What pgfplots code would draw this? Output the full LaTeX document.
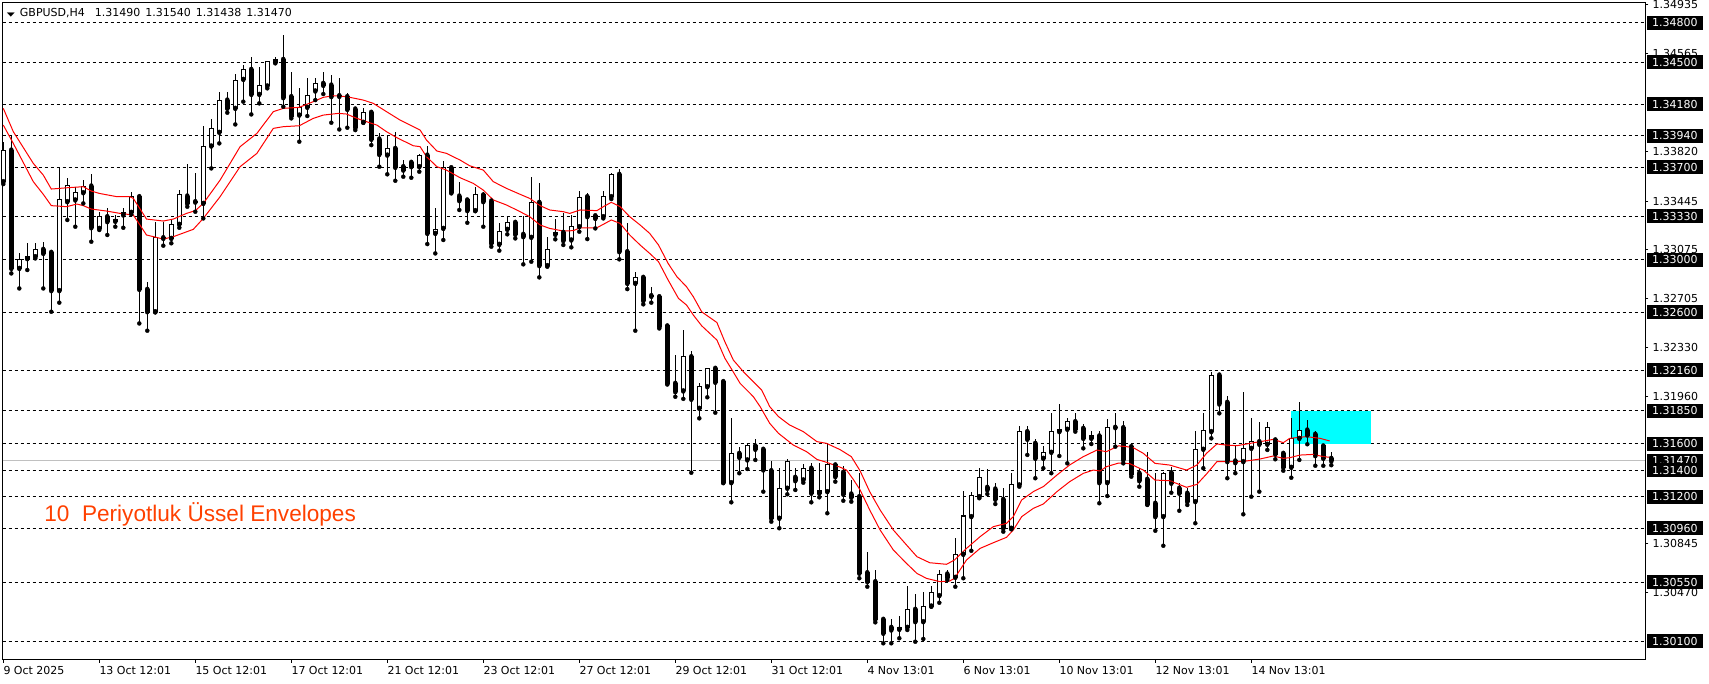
\documentclass[border=0pt]{standalone}
\usepackage{pgfplots}
\pgfplotsset{compat=1.18}
\usepackage{pgfplotstable}
\usepackage{fontspec}
\setmainfont{DejaVu Sans}
\newfontfamily\arialfont{Liberation Sans}
\definecolor{envred}{RGB}{255,0,0}
\definecolor{txtred}{RGB}{255,64,0}
\definecolor{curgray}{RGB}{192,192,192}
\definecolor{zonecyan}{RGB}{0,255,255}

\pgfplotstableread{
i O H L C
0 1.33592 1.33896 1.33574 1.33832
1 1.33832 1.33946 1.32895 1.32933
2 1.32933 1.33047 1.32781 1.33002
3 1.33007 1.33124 1.32921 1.33027
4 1.33022 1.33129 1.33009 1.33078
5 1.33078 1.33136 1.32781 1.33047
6 1.33055 1.33068 1.32604 1.32764
7 1.32764 1.33706 1.32673 1.33453
8 1.33440 1.33617 1.33301 1.33561
9 1.33453 1.33554 1.33250 1.33511
10 1.33508 1.33604 1.33427 1.33559
11 1.33559 1.33650 1.33136 1.33242
12 1.33237 1.33364 1.33225 1.33326
13 1.33326 1.33389 1.33187 1.33288
14 1.33291 1.33339 1.33250 1.33308
15 1.33339 1.33389 1.33242 1.33359
16 1.33359 1.33511 1.33344 1.33478
17 1.33478 1.33496 1.32515 1.32774
18 1.32774 1.32832 1.32460 1.32604
19 1.32604 1.33283 1.32599 1.33166
20 1.33166 1.33288 1.33106 1.33161
21 1.33161 1.33301 1.33124 1.33268
22 1.33268 1.33528 1.33242 1.33491
23 1.33483 1.33726 1.33402 1.33427
24 1.33440 1.33660 1.33364 1.33437
25 1.33427 1.34017 1.33313 1.33863
26 1.33863 1.34068 1.33693 1.33997
27 1.33967 1.34271 1.33883 1.34212
28 1.34212 1.34271 1.34116 1.34149
29 1.34149 1.34410 1.34027 1.34364
30 1.34369 1.34478 1.34200 1.34445
31 1.34445 1.34536 1.34103 1.34255
32 1.34255 1.34466 1.34187 1.34319
33 1.34319 1.34511 1.34301 1.34504
34 1.34501 1.34536 1.34491 1.34521
35 1.34521 1.34706 1.34162 1.34230
36 1.34238 1.34428 1.34073 1.34091
37 1.34098 1.34301 1.33896 1.34157
38 1.34157 1.34377 1.34091 1.34245
39 1.34281 1.34377 1.34212 1.34339
40 1.34339 1.34422 1.34258 1.34324
41 1.34326 1.34402 1.34040 1.34238
42 1.34245 1.34377 1.33989 1.34240
43 1.34238 1.34263 1.34002 1.34141
44 1.34144 1.34157 1.33984 1.34002
45 1.34043 1.34149 1.34040 1.34119
46 1.34119 1.34129 1.33870 1.33914
47 1.33916 1.33964 1.33706 1.33799
48 1.33794 1.33939 1.33648 1.33845
49 1.33845 1.33967 1.33599 1.33701
50 1.33706 1.33756 1.33630 1.33680
51 1.33739 1.33749 1.33622 1.33706
52 1.33706 1.33799 1.33668 1.33789
53 1.33794 1.33865 1.33118 1.33199
54 1.33199 1.33389 1.33047 1.33230
55 1.33237 1.33749 1.33149 1.33698
56 1.33698 1.33713 1.33503 1.33511
57 1.33483 1.33592 1.33377 1.33448
58 1.33453 1.33465 1.33280 1.33372
59 1.33372 1.33554 1.33369 1.33491
60 1.33491 1.33516 1.33250 1.33440
61 1.33445 1.33458 1.33098 1.33124
62 1.33116 1.33280 1.33068 1.33217
63 1.33230 1.33326 1.33192 1.33283
64 1.33283 1.33301 1.33161 1.33192
65 1.33192 1.33331 1.32964 1.33174
66 1.33169 1.33625 1.32984 1.33435
67 1.33435 1.33584 1.32865 1.32954
68 1.32954 1.33169 1.32946 1.33073
69 1.33192 1.33306 1.33154 1.33207
70 1.33207 1.33351 1.33111 1.33144
71 1.33149 1.33339 1.33093 1.33250
72 1.33250 1.33521 1.33212 1.33470
73 1.33478 1.33503 1.33156 1.33326
74 1.33333 1.33339 1.33237 1.33313
75 1.33326 1.33523 1.33313 1.33478
76 1.33478 1.33660 1.33460 1.33648
77 1.33648 1.33685 1.33002 1.33060
78 1.33060 1.33280 1.32776 1.32819
79 1.32819 1.32903 1.32460 1.32865
80 1.32865 1.32875 1.32660 1.32688
81 1.32726 1.32794 1.32673 1.32721
82 1.32718 1.32731 1.32477 1.32490
83 1.32496 1.32503 1.32051 1.32060
84 1.32060 1.32275 1.31958 1.31996
85 1.32002 1.32465 1.31942 1.32262
86 1.32262 1.32306 1.31381 1.31939
87 1.31870 1.32065 1.31794 1.32034
88 1.32034 1.32177 1.31954 1.32174
89 1.32174 1.32179 1.31837 1.32068
90 1.32073 1.32085 1.31305 1.31305
91 1.31305 1.31794 1.31156 1.31528
92 1.31528 1.31579 1.31377 1.31498
93 1.31478 1.31604 1.31409 1.31584
94 1.31584 1.31635 1.31478 1.31559
95 1.31559 1.31559 1.31237 1.31402
96 1.31396 1.31470 1.31009 1.31035
97 1.31035 1.31415 1.30959 1.31263
98 1.31263 1.31483 1.31217 1.31465
99 1.31346 1.31415 1.31250 1.31320
100 1.31326 1.31445 1.31305 1.31415
101 1.31415 1.31457 1.31156 1.31225
102 1.31225 1.31457 1.31194 1.31244
103 1.31237 1.31609 1.31073 1.31440
104 1.31440 1.31452 1.31313 1.31351
105 1.31384 1.31432 1.31168 1.31217
106 1.31219 1.31326 1.31161 1.31194
107 1.31199 1.31377 1.30579 1.30617
108 1.30621 1.30776 1.30515 1.30553
109 1.30553 1.30642 1.30244 1.30267
110 1.30267 1.30275 1.30085 1.30161
111 1.30206 1.30267 1.30085 1.30186
112 1.30191 1.30292 1.30123 1.30206
113 1.30206 1.30520 1.30186 1.30343
114 1.30343 1.30457 1.30097 1.30249
115 1.30249 1.30477 1.30118 1.30368
116 1.30368 1.30520 1.30363 1.30472
117 1.30447 1.30642 1.30393 1.30611
118 1.30611 1.30642 1.30566 1.30583
119 1.30586 1.30887 1.30515 1.30761
120 1.30761 1.31242 1.30579 1.31052
121 1.31047 1.31237 1.30788 1.31204
122 1.31199 1.31415 1.31187 1.31346
123 1.31270 1.31407 1.31219 1.31250
124 1.31257 1.31301 1.31143 1.31179
125 1.31179 1.31263 1.30933 1.30959
126 1.30959 1.31377 1.30951 1.31288
127 1.31288 1.31736 1.31275 1.31693
128 1.31693 1.31736 1.31516 1.31635
129 1.31604 1.31635 1.31339 1.31490
130 1.31490 1.31586 1.31415 1.31536
131 1.31536 1.31832 1.31377 1.31693
132 1.31693 1.31903 1.31508 1.31711
133 1.31711 1.31794 1.31452 1.31769
134 1.31769 1.31832 1.31693 1.31711
135 1.31718 1.31751 1.31566 1.31642
136 1.31642 1.31700 1.31599 1.31660
137 1.31660 1.31700 1.31149 1.31305
138 1.31305 1.31787 1.31204 1.31726
139 1.31726 1.31832 1.31579 1.31723
140 1.31723 1.31776 1.31452 1.31478
141 1.31579 1.31586 1.31351 1.31371
142 1.31377 1.31415 1.31275 1.31320
143 1.31331 1.31541 1.31136 1.31143
144 1.31149 1.31381 1.30940 1.31047
145 1.31047 1.31384 1.30826 1.31377
146 1.31381 1.31427 1.31229 1.31301
147 1.31263 1.31305 1.31092 1.31225
148 1.31225 1.31263 1.31136 1.31161
149 1.31161 1.31698 1.30997 1.31559
150 1.31559 1.31832 1.31415 1.31698
151 1.31693 1.32148 1.31642 1.32123
152 1.32123 1.32136 1.31832 1.31903
153 1.31916 1.31964 1.31339 1.31465
154 1.31470 1.31586 1.31377 1.31457
155 1.31465 1.31996 1.31065 1.31566
156 1.31566 1.31794 1.31199 1.31617
157 1.31617 1.31769 1.31237 1.31597
158 1.31597 1.31769 1.31554 1.31726
159 1.31630 1.31642 1.31483 1.31523
160 1.31528 1.31548 1.31396 1.31422
161 1.31422 1.31794 1.31343 1.31642
162 1.31642 1.31916 1.31478 1.31700
163 1.31705 1.31781 1.31597 1.31667
164 1.31673 1.31698 1.31434 1.31510
165 1.31584 1.31584 1.31434 1.31490
166 1.31490 1.31540 1.31438 1.31470
}\ohlc

\tikzset{boxlab/.style={fill=black, text=white, anchor=west, xshift=1.7pt,
  inner xsep=5pt, inner ysep=3pt, text height=8pt, text depth=0pt,
  font=\fontsize{11}{13}\selectfont}}

\begin{document}
\begin{tikzpicture}[font=\fontsize{11}{13}\selectfont]
\begin{axis}[name=ax, scale only axis, width=1642.6pt, height=657.7pt,
  xmin=-0.075, xmax=205.25, ymin=1.29958, ymax=1.34955,
  clip=false,
  axis line style={black, line width=1pt},
  tick label style={font=\fontsize{11}{13}\selectfont, black},
  xtick={0,12,...,156},
  xticklabels={9 Oct 2025,13 Oct 12:01,15 Oct 12:01,17 Oct 12:01,21 Oct 12:01,23 Oct 12:01,27 Oct 12:01,29 Oct 12:01,31 Oct 12:01,4 Nov 13:01,6 Nov 13:01,10 Nov 13:01,12 Nov 13:01,14 Nov 13:01},
  xtick pos=bottom,
  xticklabel style={anchor=north west, inner sep=0pt, yshift=-3pt},
  ytick={1.30470,1.30845,1.31960,1.32330,1.32705,1.33075,1.33445,1.33820,1.34565,1.34935},
  yticklabels={1.30470,1.30845,1.31960,1.32330,1.32705,1.33075,1.33445,1.33820,1.34565,1.34935},
  ytick pos=right, yticklabel pos=right,
  yticklabel style={anchor=west, inner sep=0pt, xshift=4pt},
  tick align=outside, major tick length=3pt,
  tick style={black, line width=1pt},
  extra y ticks={1.301,1.3055,1.3096,1.312,1.314,1.316,1.3185,1.3216,1.326,1.330,1.3333,1.337,1.3394,1.3418,1.345,1.348},
  extra y tick labels={},
  extra y tick style={grid=major, major tick length=0pt},
  major grid style={black, line width=1pt, dash pattern=on 3pt off 3pt},
]
% cyan zone
\addplot[fill=zonecyan, draw=none, forget plot] coordinates {(160.96,1.3160) (170.92,1.3160) (170.92,1.3185) (160.96,1.3185)} -- cycle;
% current price line
\addplot[curgray, line width=1pt, forget plot] coordinates {(-0.075,1.3147) (205.25,1.3147)};
% wicks
\addplot[only marks, mark=none, forget plot,
  error bars/.cd, y dir=plus, y explicit, error mark=none,
  error bar style={black, solid, line width=1pt}]
  table[x=i, y=L, y error expr={\thisrow{H}-\thisrow{L}}] {\ohlc};
% bodies (outline / black fill)
\addplot[only marks, mark=none, forget plot,
  error bars/.cd, y dir=plus, y explicit, error mark=none,
  error bar style={black, solid, line width=5pt}]
  table[x=i, y expr={min(\thisrow{O},\thisrow{C})-0.000038}, y error expr={abs(\thisrow{C}-\thisrow{O})+0.000076}] {\ohlc};
% bodies (white interior of bullish candles)
\addplot[only marks, mark=none, forget plot,
  error bars/.cd, y dir=plus, y explicit, error mark=none,
  error bar style={white, solid, line width=3pt}]
  table[x=i, y expr={\thisrow{O}+0.000038}, y error expr={max(0,\thisrow{C}-\thisrow{O}-0.000076)}] {\ohlc};
% envelopes
\addplot[envred, line width=1pt, forget plot] coordinates {
(0,1.34149) (1.25,1.33972) (3.75,1.33731) (5,1.33642) (6,1.33536) (8,1.33546) (10,1.33554) (11,1.33521) (12,1.33503) (14.2,1.33478) (15.8,1.33478) (16.25,1.33465) (17.9,1.33308) (20,1.33293) (21.25,1.33308) (22.9,1.33351) (24,1.33372) (25,1.33427) (27.1,1.33604) (29.6,1.33858) (31.7,1.33959) (33.75,1.34124) (35,1.34149) (37,1.34157) (38.75,1.34200) (40,1.34233) (41.25,1.34245) (42.9,1.34238) (45,1.34212) (46.25,1.34187) (47.9,1.34124) (49.6,1.34060) (51.25,1.34010) (52.1,1.33984) (52.9,1.33908) (54.2,1.33825) (55.4,1.33807) (57.1,1.33756) (58.3,1.33713) (60,1.33680) (61.25,1.33592) (62.9,1.33541) (64.6,1.33496) (65.8,1.33465) (67.1,1.33410) (68.3,1.33377) (70,1.33364) (70.8,1.33351) (72.1,1.33377) (74.2,1.33372) (75,1.33402) (76,1.33435) (77.1,1.33402) (78.3,1.33326) (79.6,1.33263) (80.8,1.33199) (81.9,1.33111) (83.1,1.32971) (84.2,1.32870) (85.4,1.32794) (86.25,1.32718) (87.3,1.32603) (89.2,1.32522) (90.2,1.32375) (91.25,1.32237) (92.5,1.32149) (93.75,1.32073) (94.8,1.32009) (95.8,1.31883) (96.9,1.31807) (98.3,1.31743) (100,1.31693) (101.7,1.31617) (102.9,1.31604) (104.6,1.31556) (106,1.31503) (107.1,1.31395) (108.3,1.31237) (109.6,1.31098) (111.25,1.30946) (112.9,1.30832) (114.2,1.30743) (115.8,1.30697) (117.9,1.30685) (118.9,1.30718) (120.4,1.30806) (122.1,1.30895) (123.75,1.30971) (125.4,1.30996) (126.25,1.31047) (127.3,1.31174) (128.75,1.31237) (130,1.31275) (131.7,1.31363) (133.3,1.31440) (135,1.31503) (136.7,1.31553) (137.9,1.31541) (139.4,1.31585) (140.4,1.31579) (141.25,1.31571) (142.5,1.31528) (143.96,1.31452) (145.8,1.31439) (147.9,1.31401) (149.2,1.31439) (150.4,1.31528) (151.7,1.31599) (152.9,1.31591) (154.2,1.31586) (155.4,1.31599) (157.1,1.31617) (158.75,1.31634) (160,1.31609) (160.8,1.31642) (162.9,1.31655) (164.6,1.31642) (165.8,1.31622)};
\addplot[envred, line width=1pt, forget plot] coordinates {
(0,1.34022) (1.25,1.33883) (3.75,1.33592) (5,1.33496) (6,1.33410) (7.9,1.33402) (9.2,1.33422) (10,1.33410) (11,1.33384) (12.9,1.33369) (14.6,1.33351) (16.25,1.33339) (17.9,1.33187) (20,1.33156) (21.25,1.33174) (23.75,1.33230) (25,1.33313) (27.1,1.33478) (29.6,1.33706) (31.7,1.33807) (33.75,1.33997) (35,1.34010) (37,1.34017) (38.75,1.34073) (40,1.34098) (41.9,1.34111) (42.9,1.34106) (44.2,1.34073) (45.4,1.34048) (46.7,1.34022) (47.9,1.33972) (49.2,1.33926) (51.25,1.33865) (52.1,1.33858) (52.9,1.33782) (54.2,1.33706) (55.4,1.33680) (57.1,1.33622) (58.75,1.33579) (60,1.33528) (61.25,1.33453) (62.9,1.33415) (64.6,1.33364) (65.8,1.33326) (67.1,1.33263) (68.3,1.33237) (70,1.33217) (71.25,1.33220) (72.1,1.33242) (74.2,1.33242) (75,1.33268) (76,1.33301) (77.1,1.33275) (78.3,1.33187) (79.6,1.33111) (80.8,1.33047) (81.9,1.32984) (83.1,1.32845) (84.4,1.32705) (85.4,1.32655) (86.25,1.32579) (87.3,1.32497) (89.2,1.32389) (90.2,1.32250) (91.1,1.32161) (92.1,1.32060) (93.75,1.31959) (94.6,1.31883) (95.8,1.31756) (96.9,1.31680) (98.75,1.31591) (100.4,1.31541) (101.7,1.31482) (102.9,1.31460) (104.6,1.31423) (105.4,1.31401) (106.25,1.31330) (107.1,1.31250) (108.3,1.31098) (109.6,1.30946) (111.25,1.30794) (112.9,1.30692) (114.2,1.30616) (115.4,1.30578) (117.1,1.30553) (118.3,1.30558) (118.9,1.30578) (120.4,1.30718) (122.1,1.30806) (123.75,1.30849) (125.4,1.30890) (126.25,1.30946) (127.3,1.31047) (128.75,1.31110) (130,1.31143) (131.7,1.31237) (133.3,1.31313) (135,1.31376) (136.25,1.31401) (137.1,1.31394) (137.9,1.31427) (139.4,1.31454) (140.8,1.31450) (142.5,1.31401) (143.96,1.31325) (145.8,1.31320) (147.9,1.31270) (149.2,1.31292) (150.4,1.31371) (151.7,1.31465) (152.9,1.31465) (154.2,1.31465) (155.4,1.31470) (157.1,1.31485) (158.75,1.31508) (160,1.31490) (160.8,1.31495) (162.1,1.31515) (163.75,1.31520) (165,1.31503) (165.8,1.31498)};
% price boxes on the right
\node[boxlab] at (axis cs:205.25,1.3480) {1.34800};
\node[boxlab] at (axis cs:205.25,1.3450) {1.34500};
\node[boxlab] at (axis cs:205.25,1.3418) {1.34180};
\node[boxlab] at (axis cs:205.25,1.3394) {1.33940};
\node[boxlab] at (axis cs:205.25,1.3370) {1.33700};
\node[boxlab] at (axis cs:205.25,1.3333) {1.33330};
\node[boxlab] at (axis cs:205.25,1.3300) {1.33000};
\node[boxlab] at (axis cs:205.25,1.3260) {1.32600};
\node[boxlab] at (axis cs:205.25,1.3216) {1.32160};
\node[boxlab] at (axis cs:205.25,1.3185) {1.31850};
\node[boxlab] at (axis cs:205.25,1.3160) {1.31600};
\node[boxlab] at (axis cs:205.25,1.3147) {1.31470};
\node[boxlab] at (axis cs:205.25,1.3140) {1.31400};
\node[boxlab] at (axis cs:205.25,1.3120) {1.31200};
\node[boxlab] at (axis cs:205.25,1.3096) {1.30960};
\node[boxlab] at (axis cs:205.25,1.3055) {1.30550};
\node[boxlab] at (axis cs:205.25,1.3010) {1.30100};
% title
\node[anchor=base west, inner sep=0pt] at (axis cs:0.425,1.34846)
  {\scalebox{0.95}[0.5]{▼}\hspace{5pt}GBPUSD,H4\hspace{10pt}1.31490\hspace{5pt}1.31540\hspace{5pt}1.31438\hspace{5pt}1.31470};
% indicator caption
\node[anchor=base west, inner sep=0pt, text=txtred, font=\arialfont\fontsize{22.6}{24}\selectfont]
  at (axis cs:5.11,1.31009) {10\ \ Periyotluk Üssel Envelopes};
\end{axis}
\pgfresetboundingbox
\path[use as bounding box] ([shift={(-2.7pt,-24pt)}]ax.south west) rectangle ([shift={(1706.3pt,660pt)}]ax.south west);
\end{tikzpicture}
\end{document}
